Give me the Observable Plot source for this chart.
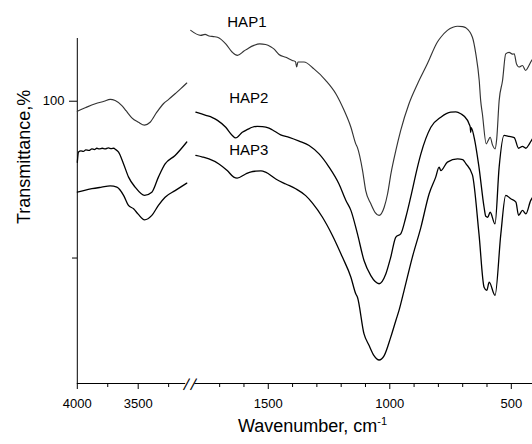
<!DOCTYPE html>
<html><head><meta charset="utf-8">
<script src="https://cdn.jsdelivr.net/npm/d3@7"></script>
<script src="https://cdn.jsdelivr.net/npm/@observablehq/plot@0.6"></script>
<style>html,body{margin:0;padding:0;background:#fff;}</style>
</head><body><div id="chart"></div>
<script>
// ---- data (wavenumber cm-1, transmittance %) ----
const seriesNames = ["HAP1", "HAP2", "HAP3"];

const hap1Left = [[4000,96.8],[3930,98.0],[3852,99.2],[3780,100.0],[3730,100.6],[3689,100.2],[3634,98.6],[3600,97.0],[3580,96.0],[3552,94.7],[3498,93.3],[3448,92.4],[3402,93.3],[3347,96.5],[3293,99.2],[3250,100.6],[3197,102.4],[3150,104.0],[3101,105.8]];
const hap2Left = [[4000,80.5],[3990,83.8],[3970,84.2],[3950,84.0],[3930,84.5],[3905,84.3],[3880,84.8],[3860,84.6],[3840,85.0],[3820,84.8],[3795,85.0],[3770,84.8],[3745,85.1],[3720,84.9],[3700,85.0],[3689,84.7],[3661,83.8],[3620,80.0],[3579,75.8],[3525,72.6],[3448,70.0],[3388,71.0],[3334,75.8],[3279,80.0],[3197,82.7],[3101,87.0]];
const hap3Left = [[4000,71.0],[3940,71.6],[3880,72.1],[3800,72.6],[3730,73.0],[3675,72.6],[3620,70.0],[3580,66.8],[3538,65.7],[3500,64.0],[3448,62.2],[3388,63.6],[3334,66.8],[3279,69.4],[3197,71.5],[3101,73.9]];

const hap1Right = [[1819,122.6],[1778,121.0],[1760,121.3],[1744,120.8],[1725,120.6],[1709,120.4],[1675,118.3],[1648,115.6],[1627,114.6],[1600,116.0],[1580,117.0],[1559,117.8],[1535,118.3],[1511,118.1],[1490,117.4],[1477,116.7],[1456,114.9],[1428,114.0],[1401,113.0],[1388,112.6],[1383,110.9],[1378,112.5],[1353,112.5],[1312,110.3],[1263,106.6],[1222,102.4],[1188,97.1],[1160,91.7],[1140,86.4],[1133,85.2],[1112,77.9],[1099,71.5],[1078,67.3],[1060,64.5],[1044,63.6],[1023,66.2],[1009,70.5],[995,77.0],[975,84.3],[955,90.7],[921,99.2],[886,105.5],[845,112.0],[804,118.9],[790,120.4],[763,122.6],[740,123.6],[721,123.9],[700,123.8],[687,123.4],[660,120.4],[646,115.1],[632,106.6],[626,100.2],[619,96.0],[603,86.4],[595,87.5],[587,88.5],[577,86.0],[567,84.8],[560,88.0],[550,100.2],[536,106.6],[523,115.1],[509,115.6],[495,115.0],[488,115.1],[479,112.0],[468,110.9],[454,111.4],[441,109.8],[430,111.0],[420,112.5],[412,113.5]];
const hap2Right = [[1798,96.5],[1757,95.5],[1730,94.8],[1709,93.9],[1675,91.7],[1648,89.1],[1634,88.3],[1607,90.1],[1585,91.0],[1566,91.7],[1545,92.0],[1525,91.9],[1500,91.5],[1484,90.9],[1449,89.3],[1414,88.5],[1373,87.3],[1332,85.9],[1291,83.2],[1250,79.0],[1209,73.6],[1181,68.4],[1160,65.2],[1133,57.7],[1106,49.2],[1078,44.4],[1060,42.5],[1044,41.8],[1016,45.0],[996,50.3],[975,56.7],[955,57.7],[934,63.0],[914,69.4],[886,79.0],[872,83.2],[831,91.7],[790,94.9],[749,96.5],[728,96.6],[708,96.0],[680,93.9],[674,92.8],[669,91.8],[667,90.0],[665,91.6],[653,88.5],[633,79.0],[612,66.2],[605,63.3],[597,63.0],[587,64.6],[567,60.9],[550,79.0],[530,89.1],[509,88.8],[488,88.4],[470,85.0],[454,85.6],[440,85.0],[425,86.5],[413,88.0]];
const hap3Right = [[1798,82.7],[1770,82.2],[1744,81.6],[1703,80.0],[1669,77.9],[1642,75.8],[1628,75.5],[1593,76.8],[1570,77.5],[1552,77.7],[1530,77.8],[1511,77.4],[1469,75.2],[1428,73.6],[1387,72.1],[1346,69.9],[1318,67.5],[1277,63.0],[1236,57.2],[1195,50.3],[1160,43.9],[1140,38.6],[1133,37.5],[1106,25.8],[1085,22.1],[1065,18.9],[1044,17.5],[1023,18.9],[996,24.8],[975,30.1],[962,33.3],[941,39.7],[907,50.3],[872,59.8],[838,70.5],[811,75.8],[797,79.0],[790,77.9],[763,80.6],[721,81.6],[700,81.4],[687,80.1],[660,76.5],[633,57.7],[612,40.7],[601,39.7],[591,42.3],[567,38.1],[543,57.7],[523,70.0],[502,68.9],[481,67.8],[470,63.6],[454,65.2],[440,64.1],[420,68.4],[412,69.4]];

// tick values
const xTicksMajor = [4000, 3500, 1500, 1000, 500];
const xTicksMinor = [3750, 3250, 1700, 1600, 1400, 1300, 1200, 1100, 900, 800, 700, 600];
const yTicksMajor = [100];
const yTicksMinor = [50];

// series label anchors (data units)
const labelW = [1588, 1580, 1580];
const labelT = [125.2, 100.9, 84.5];

// broken axis definition
const xDomain = [4000, 3100, 1820, 400];
const yDomain = [10, 120];
const axisLeftSeg = [4000, 3110];
const axisRightSeg = [1802, 400];
const breakAt = [3100, 1806];

// ---- build rows ----
const segs = {HAP1: [hap1Left, hap1Right], HAP2: [hap2Left, hap2Right], HAP3: [hap3Left, hap3Right]};
const rows = [];
for (const name of seriesNames) {
  segs[name].forEach((seg, i) => seg.forEach(([w, t]) => rows.push({name, seg: name + "-" + i, w, t})));
}
const labels = seriesNames.map((name, i) => ({name, w: labelW[i], t: labelT[i]}));

const font = "'Liberation Sans', Arial, Helvetica, sans-serif";
const fmt = d => String(d);

const chart = Plot.plot({
  width: 532, height: 444,
  marginLeft: 77, marginRight: 0, marginTop: 38, marginBottom: 61,
  style: {fontFamily: font, fontSize: "13px", color: "#000", background: "#fff", overflow: "visible"},
  x: {type: "linear", domain: xDomain, range: [76.8, 186.4, 190, 535.1], nice: false},
  y: {domain: yDomain, nice: false},
  marks: [
    Plot.ruleY([yDomain[0]], {x1: axisLeftSeg[0], x2: axisLeftSeg[1], stroke: "#000", strokeWidth: 1}),
    Plot.ruleY([yDomain[0]], {x1: axisRightSeg[0], x2: axisRightSeg[1], stroke: "#000", strokeWidth: 1}),
    Plot.ruleX([xDomain[0]], {y1: yDomain[0], y2: yDomain[1], stroke: "#000", strokeWidth: 1}),
    Plot.text(breakAt, {x: d => d, y: () => yDomain[0], text: () => "|", rotate: 28, fontSize: 14, fill: "#000"}),
    Plot.axisX({ticks: xTicksMajor, tickSize: 6, tickPadding: 9, tickFormat: fmt, label: null, fontSize: 13}),
    Plot.axisX({ticks: xTicksMinor, tickSize: 4, tickFormat: () => "", label: null}),
    Plot.axisY({ticks: yTicksMajor, tickSize: 8, tickPadding: 5, tickFormat: fmt, label: null, fontSize: 13}),
    Plot.axisY({ticks: yTicksMinor, tickSize: 5, tickFormat: () => "", label: null}),
    Plot.line(rows.filter(d => d.name === "HAP1"), {x: "w", y: "t", z: "seg", stroke: "#333", strokeWidth: 1.15, curve: "monotone-x"}),
    Plot.line(rows.filter(d => d.name === "HAP2"), {x: "w", y: "t", z: "seg", stroke: "#000", strokeWidth: 1.3, curve: "monotone-x"}),
    Plot.line(rows.filter(d => d.name === "HAP3"), {x: "w", y: "t", z: "seg", stroke: "#000", strokeWidth: 1.3, curve: "monotone-x"}),
    Plot.text(labels, {x: "w", y: "t", text: "name", fontSize: 15, fill: "#000"}),
    Plot.text(["Transmittance,%"], {text: d => d, frameAnchor: "left", rotate: -90, dx: -53, dy: 13, fontSize: 18, fill: "#000"}),
    Plot.text(["Wavenumber, cm-1"], {text: d => d, frameAnchor: "bottom", dx: 7.5, dy: 48, fontSize: 18, fill: "#000"})
  ]
});
document.getElementById("chart").appendChild(chart);

// superscript for the unit
d3.select(chart).selectAll("text").each(function() {
  if (this.textContent === "Wavenumber, cm-1") {
    const t = d3.select(this);
    t.selectAll("*").remove();
    t.text("");
    t.append("tspan").text("Wavenumber, cm");
    t.append("tspan").attr("dy", "-0.55em").attr("font-size", "11px").text("-1");
  }
});
</script>
</body></html>
